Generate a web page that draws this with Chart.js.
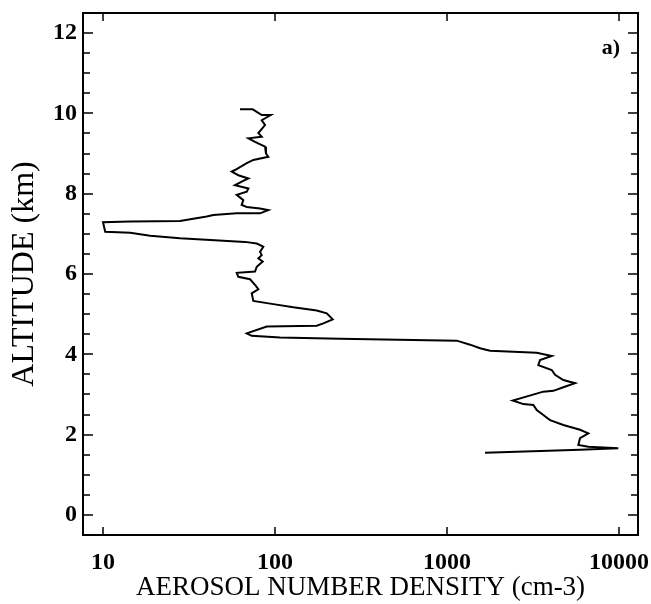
<!DOCTYPE html>
<html>
<head>
<meta charset="utf-8">
<script src="https://cdn.jsdelivr.net/npm/chart.js@4"></script>
<style>
  html, body { margin: 0; padding: 0; background: #fff; }
  #wrap { width: 651px; height: 604px; }
</style>
</head>
<body>
<div id="wrap"><canvas id="profileChart" width="651" height="604"></canvas></div>
<script>
// altitude profile (km) and aerosol number density (cm-3) top to bottom
const altitude = [
  10.10, 10.10, 9.96, 9.96, 9.83, 9.71, 9.51, 9.42, 9.38, 9.29,
  9.17, 9.00, 8.92, 8.84, 8.76, 8.59, 8.55, 8.46, 8.38, 8.30,
  8.21, 8.13, 8.05, 7.97, 7.84, 7.72, 7.67, 7.63, 7.59, 7.51,
  7.51, 7.47, 7.43, 7.32, 7.31, 7.29, 7.05, 7.03, 6.95, 6.89,
  6.80, 6.76, 6.68, 6.55, 6.47, 6.39, 6.31, 6.18, 6.06, 6.03,
  5.93, 5.87, 5.73, 5.62, 5.52, 5.33, 5.25, 5.17, 5.09, 5.02,
  4.87, 4.77, 4.71, 4.69, 4.52, 4.46, 4.42, 4.39, 4.34, 4.24,
  4.15, 4.09, 4.04, 3.96, 3.86, 3.73, 3.61, 3.49, 3.36, 3.28,
  3.18, 3.09, 3.07, 2.85, 2.76, 2.74, 2.61, 2.49, 2.36, 2.24,
  2.12, 2.03, 1.91, 1.74, 1.70, 1.66, 1.62, 1.55
];
const density = [
  62.6, 74.2, 83.7, 94.4, 83.7, 87.5, 80.0, 83.7, 70.0, 76.5,
  87.5, 88.6, 91.4, 74.8, 68.5, 58.5, 56.0, 61.2, 70.0, 64.0,
  58.5, 70.0, 68.5, 59.9, 65.4, 64.0, 68.5, 81.8, 91.4, 81.8,
  59.9, 43.8, 40.1, 28.0, 14.4, 10.0, 10.3, 14.4, 18.8, 28.0,
  66.9, 78.3, 85.5, 81.8, 83.7, 80.0, 84.8, 78.3, 76.5, 59.9,
  61.2, 71.6, 76.5, 80.0, 73.2, 74.8, 97.7, 127.8, 174.8, 199.8,
  216.5, 190.9, 174.8, 89.5, 68.5, 73.2, 106.9, 238.8, 1139, 1361,
  1556, 1778, 3323, 4062, 3473, 3394, 4062, 4246, 4745, 5549,
  4745, 4150, 3629, 2410, 2777, 3176, 3323, 3629, 3971, 4745,
  5933, 6630, 5933, 5799, 6630, 9900, 5933, 1663
];

const xTicks = [10, 100, 1000, 10000];
const xRange = [7.65, 12890];
const yRange = [-0.5, 12.5];
const yStep = 0.5;       // minor ticks every 0.5 km
const yLabelEvery = 2;   // labelled ticks every 2 km

const points = altitude.map((a, i) => ({ x: density[i], y: a }));

const serif = '"Liberation Serif", "Times New Roman", serif';

// frame, inward ticks and panel letter
const frameTicks = {
  id: 'frameTicks',
  afterDraw(chart) {
    const { ctx, chartArea: a, scales: { x, y } } = chart;
    ctx.save();
    ctx.strokeStyle = '#000';
    ctx.lineWidth = 2;
    ctx.strokeRect(a.left, a.top, a.right - a.left, a.bottom - a.top);

    ctx.lineWidth = 1.5;
    ctx.beginPath();
    x.ticks.forEach(t => {
      const px = Math.round(x.getPixelForValue(t.value));
      ctx.moveTo(px, a.bottom); ctx.lineTo(px, a.bottom - 8);
      ctx.moveTo(px, a.top); ctx.lineTo(px, a.top + 8);
    });
    y.ticks.forEach(t => {
      if (t.value <= y.min || t.value >= y.max) return;
      const len = t.value % yLabelEvery === 0 ? 10 : 7;
      const py = Math.round(y.getPixelForValue(t.value));
      ctx.moveTo(a.left, py); ctx.lineTo(a.left + len, py);
      ctx.moveTo(a.right, py); ctx.lineTo(a.right - len, py);
    });
    ctx.stroke();

    ctx.fillStyle = '#000';
    ctx.font = 'bold 22px ' + serif;
    ctx.textAlign = 'right';
    ctx.textBaseline = 'middle';
    ctx.fillText('a)', a.right - 18, a.top + 35);
    ctx.restore();
  }
};

new Chart(document.getElementById('profileChart').getContext('2d'), {
  type: 'scatter',
  data: {
    datasets: [{
      data: points,
      showLine: true,
      borderColor: '#000',
      borderWidth: 2,
      pointRadius: 0,
      tension: 0
    }]
  },
  options: {
    responsive: false,
    animation: false,
    devicePixelRatio: 1,
    layout: { padding: { top: 13, right: 13, bottom: 0, left: 0 } },
    plugins: {
      legend: { display: false },
      tooltip: { enabled: false }
    },
    scales: {
      x: {
        type: 'logarithmic',
        min: xRange[0],
        max: xRange[1],
        afterBuildTicks: s => { s.ticks = xTicks.map(v => ({ value: v })); },
        afterFit: s => { s.height = 604 - 535; s.paddingLeft = 0; s.paddingRight = 0; },
        grid: { display: false, drawTicks: false },
        border: { display: false },
        ticks: {
          color: '#000',
          padding: 13,
          maxRotation: 0,
          autoSkip: false,
          font: { family: serif, size: 24, weight: 'bold' },
          callback: v => String(v)
        },
        title: {
          display: true,
          text: 'AEROSOL NUMBER DENSITY (cm-3)',
          color: '#000',
          padding: { top: 0, bottom: 0 },
          font: { family: serif, size: 27 }
        }
      },
      y: {
        min: yRange[0],
        max: yRange[1],
        afterFit: s => { s.width = 83; s.paddingTop = 0; s.paddingBottom = 0; },
        grid: { display: false, drawTicks: false },
        border: { display: false },
        ticks: {
          stepSize: yStep,
          color: '#000',
          padding: 6,
          autoSkip: false,
          font: { family: serif, size: 24, weight: 'bold' },
          callback: v => (v % yLabelEvery === 0 ? String(v) : '')
        },
        title: {
          display: true,
          text: 'ALTITUDE (km)',
          color: '#000',
          padding: { top: 5, bottom: 0 },
          font: { family: serif, size: 32 }
        }
      }
    }
  },
  plugins: [frameTicks]
});
</script>
</body>
</html>
